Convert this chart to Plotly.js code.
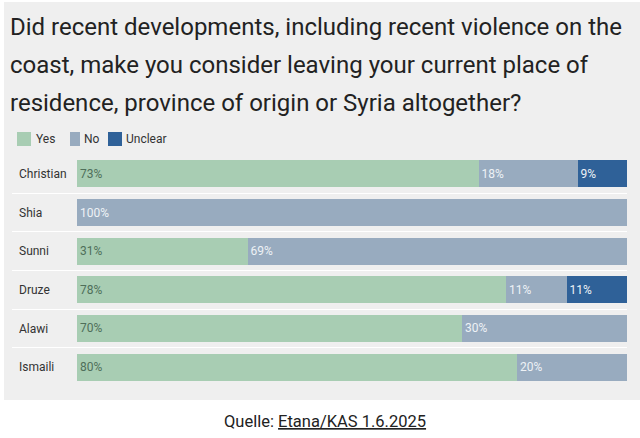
<!DOCTYPE html>
<html>
<head>
<meta charset="utf-8">
<script src="https://cdn.plot.ly/plotly-3.0.1.min.js"></script>
<style>
  html, body { margin: 0; padding: 0; background: white; }
  #chart { width: 640px; height: 438px; }
</style>
</head>
<body>
<div id="chart"></div>
<script>
// Survey: consider leaving place of residence / province / Syria (Etana/KAS)
const groups = ['Christian', 'Shia', 'Sunni', 'Druze', 'Alawi', 'Ismaili'];
const seriesNames = ['Yes', 'No', 'Unclear'];
const yesValues = [73, null, 31, 78, 70, 80];
const noValues = [18, 100, 69, 11, 30, 20];
const unclearValues = [9, null, null, 11, null, null];

const titleLines = [
    'Did recent developments, including recent violence on the',
    'coast, make you consider leaving your current place of',
    'residence, province of origin or Syria altogether?'
];

const colors = ['#a8cdb3', '#98abbf', '#2f6198'];
const textColors = ['#4f6f5a', '#eef2f6', '#eef2f6'];

// plot area in pixels (used to place the decorations in paper units)
const W = 640, H = 438;
const M = {l: 12, r: 13, t: 155, b: 52};
const plotW = W - M.l - M.r;
const plotH = H - M.t - M.b;
const px = x => (x - M.l) / plotW;
const py = y => (H - M.b - y) / plotH;

const font = 'Roboto, "Open Sans", sans-serif';

const data = [yesValues, noValues, unclearValues].map((values, i) => ({
    type: 'bar',
    orientation: 'h',
    name: seriesNames[i],
    y: groups,
    x: values,
    marker: {color: colors[i]},
    texttemplate: '%{x}%',
    textposition: 'inside',
    insidetextanchor: 'start',
    textfont: {family: font, size: 12, color: textColors[i]},
    hoverinfo: 'skip'
}));

const annotations = titleLines.map((t, i) => ({
    text: t,
    xref: 'paper', yref: 'paper',
    x: px(8), y: py(27 + i * 38),
    xanchor: 'left', yanchor: 'middle',
    showarrow: false,
    font: {family: font, size: 24, color: '#222222'}
}));

// hand-made legend: colour box + label
const legendBoxes = [[17, 31], [70, 80], [108, 122]];
const legendText = [35, 83, 125];
const shapes = [{
    type: 'rect',
    xref: 'paper', yref: 'paper',
    x0: px(4), x1: px(640),
    y0: py(400), y1: py(2),
    fillcolor: '#efefef',
    line: {width: 0},
    layer: 'below'
}];
seriesNames.forEach((name, i) => {
    shapes.push({
        type: 'rect',
        xref: 'paper', yref: 'paper',
        x0: px(legendBoxes[i][0]), x1: px(legendBoxes[i][1]),
        y0: py(146), y1: py(132),
        fillcolor: colors[i],
        line: {width: 0}
    });
    annotations.push({
        text: name,
        xref: 'paper', yref: 'paper',
        x: px(legendText[i] - 1), y: py(139),
        xanchor: 'left', yanchor: 'middle',
        showarrow: false,
        font: {family: font, size: 12, color: '#333333'}
    });
});

annotations.push({
    text: 'Quelle: <span style="text-decoration:underline">Etana/KAS 1.6.2025</span>',
    xref: 'paper', yref: 'paper',
    x: px(325), y: py(421),
    xanchor: 'center', yanchor: 'middle',
    showarrow: false,
    font: {family: font, size: 16.5, color: '#222222'}
});

const layout = {
    width: W,
    height: H,
    margin: M,
    barmode: 'stack',
    bargap: 0.3,
    paper_bgcolor: 'white',
    plot_bgcolor: 'rgba(0,0,0,0)',
    font: {family: font, size: 12, color: '#333333'},
    xaxis: {
        range: [-11.82, 100],
        visible: false,
        fixedrange: true
    },
    yaxis: {
        type: 'category',
        categoryorder: 'array',
        categoryarray: groups,
        range: [5.49, -0.49],
        tickson: 'boundaries',
        showgrid: true,
        gridcolor: '#ffffff',
        gridwidth: 1,
        ticks: '',
        ticklabelposition: 'inside',
        ticklabelstandoff: 4,
        tickfont: {family: font, size: 12, color: '#333333'},
        showline: false,
        zeroline: false,
        fixedrange: true
    },
    showlegend: false,
    shapes: shapes,
    annotations: annotations
};

Plotly.newPlot('chart', data, layout, {displayModeBar: false, staticPlot: true});
</script>
</body>
</html>
